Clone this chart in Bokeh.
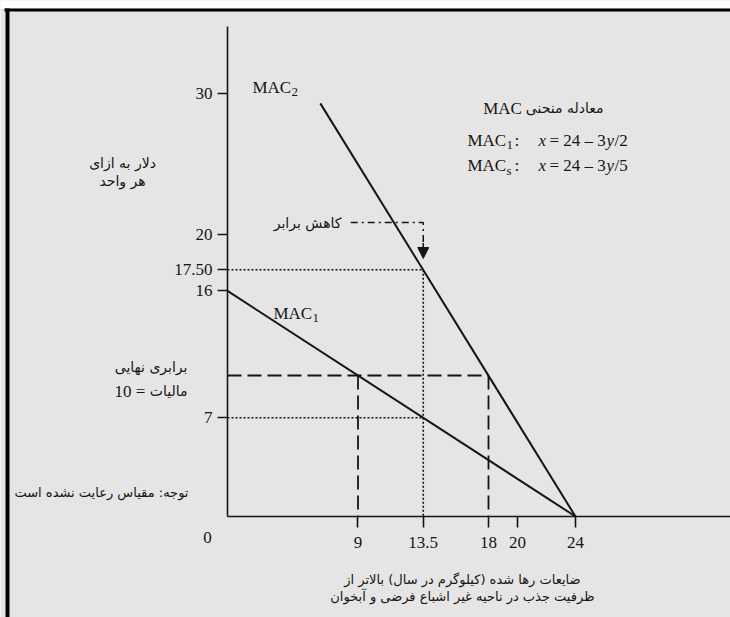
from bokeh.plotting import figure
from bokeh.models import Range1d, FixedTicker, Label, Arrow, NormalHead, BoxAnnotation
from bokeh.embed import file_html
from bokeh.resources import INLINE

# Marginal abatement cost curves (x = emissions, y = $ per unit)
mac1_x = [0, 24]
mac1_y = [16, 0]
mac2_x = [6.4, 24]
mac2_y = [29.3, 0]

tax_level = 10            # equal-marginal tax
tax_cut_x = [9, 18]       # MAC1 and MAC2 at the tax level
equal_cut_x = 13.5        # equal reduction point
equal_cut_mac2 = 17.5     # MAC2 at 13.5
equal_cut_mac1 = 7        # MAC1 at 13.5
pointer_y = 20.85         # dash-dot pointer level

x_ticks = [9, 13.5, 18, 20, 24]
x_tick_labels = ["9", "13.5", "18", "20", "24"]
y_ticks = [7, 16, 17.5, 20, 30]
y_tick_labels = ["7", "16", "17.50", "20", "30"]

X_MIN, X_MAX = -15.655, 34.69
Y_MIN, Y_MAX = -7.163, 36.596
Y_AXIS_TOP = 34.75

BG = "#e5e5e5"
INK = "#151515"
SERIF = "Liberation Serif"
FA = "DejaVu Sans"

p = figure(width=730, height=617, output_backend="svg", toolbar_location=None,
           x_range=Range1d(X_MIN, X_MAX), y_range=Range1d(Y_MIN, Y_MAX),
           min_border=0, background_fill_color=BG,
           border_fill_color=BG, outline_line_color=None)
p.grid.visible = False

# axes pinned at the origin, drawn only over the positive quadrant
for ax, ticks, labels, out, stand, bounds in (
        (p.xaxis, x_ticks, x_tick_labels, 11, 9, (0, X_MAX)),
        (p.yaxis, y_ticks, y_tick_labels, 10, 5, (0, Y_AXIS_TOP))):
    ax.fixed_location = 0
    ax.bounds = bounds
    ax.ticker = FixedTicker(ticks=ticks)
    ax.major_label_overrides = {t: s for t, s in zip(ticks, labels)}
    ax.major_tick_out = out
    ax.major_tick_in = 0
    ax.minor_tick_out = 0
    ax.minor_tick_in = 0
    ax.axis_line_width = 1.6
    ax.axis_line_color = INK
    ax.major_tick_line_width = 1.6
    ax.major_tick_line_color = INK
    ax.major_label_text_font = SERIF
    ax.major_label_text_font_size = "17px"
    ax.major_label_text_color = INK
    ax.major_label_standoff = stand

# page frame: white strip on top, black rules top and left
for l, r, t, b, c in ((0, 730, 0, 8, "white"), (4, 730, 8, 11, "black"),
                      (5, 9, 8, 617, "black")):
    p.add_layout(BoxAnnotation(left=l, right=r, top=t, bottom=b,
                               left_units="canvas", right_units="canvas",
                               top_units="canvas", bottom_units="canvas",
                               fill_color=c, fill_alpha=1, line_color=None))

# MAC curves
p.line(mac1_x, mac1_y, line_width=2, color=INK)
p.line(mac2_x, mac2_y, line_width=2, color=INK)

# equal-marginal tax: dashed guides
p.line([0, tax_cut_x[1]], [tax_level, tax_level], line_width=1.8, color=INK, line_dash="14 6")
for xc in tax_cut_x:
    p.line([xc, xc], [tax_level, 0], line_width=1.8, color=INK, line_dash="14 6")

# equal reduction: dotted guides
p.line([0, equal_cut_x], [equal_cut_mac2, equal_cut_mac2], line_width=1.6, color=INK, line_dash="2 2")
p.line([0, equal_cut_x], [equal_cut_mac1, equal_cut_mac1], line_width=1.6, color=INK, line_dash="2 2")
p.line([equal_cut_x, equal_cut_x], [equal_cut_mac2, 0], line_width=1.6, color=INK, line_dash="2 2")

# dash-dot pointer with arrow
p.line([8.5, equal_cut_x, equal_cut_x], [pointer_y, pointer_y, 19.3],
       line_width=1.5, color=INK, line_dash="7 4 2 4")
p.add_layout(Arrow(x_start=equal_cut_x, y_start=19.4, x_end=equal_cut_x, y_end=18.3,
                   line_width=1.5, line_color=INK,
                   end=NormalHead(size=11, fill_color=INK, line_color=INK)))


def note(x, y, text, size=17, font=SERIF, align="left", baseline="alphabetic",
         style="normal", dx=0):
    p.add_layout(Label(x=x, y=y, text=text, text_font=font,
                       text_font_size=f"{size}px", text_align=align,
                       text_baseline=baseline, text_font_style=style,
                       text_color=INK, x_offset=dx))


# curve names
note(1.72, 30.43, "MAC")
note(1.72, 30.08, "2", size=13, dx=39)
note(3.17, 14.40, "MAC")
note(3.17, 14.05, "1", size=13, dx=39)

# equation block
note(25.93, 28.94, "معادله منحنی", size=14, font=FA, align="right")
note(17.63, 28.94, "MAC")
for yb, sub, den in ((26.67, "1", "/2"), (24.89, "s", "/5")):
    note(16.55, yb, "MAC")
    note(16.55, yb - 0.35, sub, size=13, dx=39)
    note(16.55, yb, ":", dx=47)
    note(21.45, yb, "x", style="italic")
    note(21.45, yb, "= 24 – 3", dx=11)
    note(21.45, yb, "y", style="italic", dx=68)
    note(21.45, yb, den, dx=76)

note(7.86, pointer_y, "کاهش برابر", size=14, font=FA, align="right", baseline="middle")

# left-hand notes
note(-7.24, 25.1, "دلار به ازای", size=14, font=FA, align="center", baseline="middle")
note(-7.24, 23.83, "هر واحد", size=14, font=FA, align="center", baseline="middle")
note(-2.76, 10.57, "برابری نهایی", size=14, font=FA, align="right", baseline="middle")
note(-2.76, 8.87, "مالیات", size=14, font=FA, align="right", baseline="middle")
note(-5.66, 8.87, "10 =", align="right", baseline="middle")
note(-2.69, 1.70, "توجه: مقیاس رعایت نشده است", size=13, font=FA, align="right", baseline="middle")
note(-1.38, -1.49, "0", align="center", baseline="middle")

# horizontal axis title
note(16.2, -4.47, "ضایعات رها شده (کیلوگرم در سال) بالاتر از", size=13, font=FA,
     align="center", baseline="middle")
note(16.2, -5.67, "ظرفیت جذب در ناحیه غیر اشباع فرضی و آبخوان", size=13, font=FA,
     align="center", baseline="middle")

open("out.html", "w").write(file_html(p, INLINE))
